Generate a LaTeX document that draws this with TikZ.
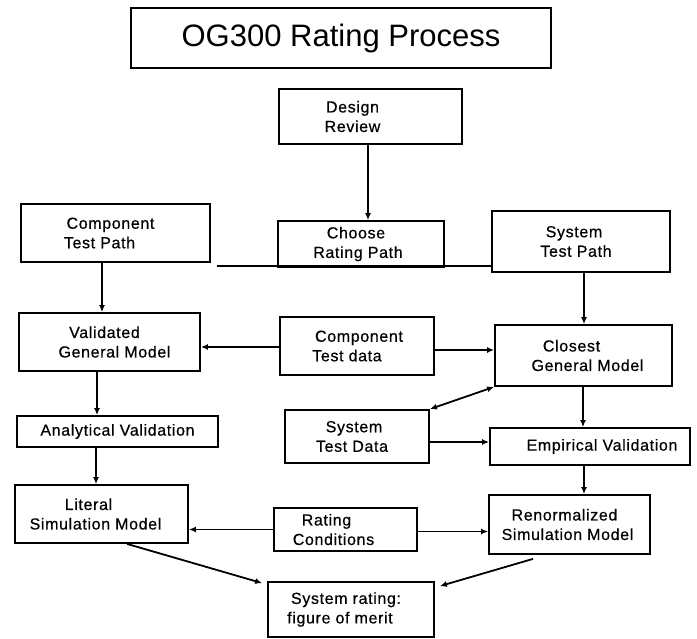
\documentclass[tikz,border=0pt]{standalone}
\usepackage{fontspec}
\setmainfont{Liberation Sans}
\newfontfamily\boxfont[FakeBold=0.5, LetterSpace=4]{Liberation Sans}
\usetikzlibrary{arrows.meta}
\begin{document}
\begin{tikzpicture}[x=1pt,y=-1pt,
  box/.style={draw=black, line width=1.8pt, rectangle, inner sep=0pt, align=center,
              font=\boxfont\fontsize{16}{19.5}\selectfont},
  arr/.style={line width=1.8pt, -{Latex[length=7pt,width=6pt]}},
  dbl/.style={line width=1.8pt, {Latex[length=7pt,width=6pt]}-{Latex[length=7pt,width=6pt]}},
  plainline/.style={line width=1.8pt}]
\useasboundingbox (0,0) rectangle (697,639);

% boxes
\node[box, minimum width=420pt, minimum height=60pt, font=\fontsize{31}{36}\selectfont] (title) at (341,38) {OG300 Rating Process};
\node[box, minimum width=183pt, minimum height=55pt] (design) at (370.5,116.5) {Design\hspace*{36pt}\\Review\hspace*{36pt}};
\node[box, minimum width=166pt, minimum height=46pt] (choose) at (361,244) {Choose\hspace*{10pt}\\Rating Path\hspace*{6pt}};
\node[box, minimum width=189pt, minimum height=58pt] (comppath) at (115.5,233) {Component\hspace*{10pt}\\Test Path\hspace*{32pt}};
\node[box, minimum width=178pt, minimum height=61pt] (syspath) at (581,241.5) {System\hspace*{14pt}\\Test Path\hspace*{10pt}};
\node[box, minimum width=181pt, minimum height=58pt] (valid) at (109.5,342) {Validated\hspace*{10pt}\\\hspace*{10pt}General Model};
\node[box, minimum width=154pt, minimum height=58pt] (comptest) at (357,346) {\hspace*{4pt}Component\\Test data\hspace*{20pt}};
\node[box, minimum width=177pt, minimum height=61pt] (closest) at (583.5,355.5) {Closest\hspace*{24pt}\\\hspace*{8pt}General Model};
\node[box, minimum width=201pt, minimum height=31pt] (analytic) at (117.5,431.5) {Analytical Validation};
\node[box, minimum width=144pt, minimum height=53pt] (systest) at (357,436.5) {System\hspace*{6pt}\\Test Data\hspace*{10pt}};
\node[box, minimum width=200pt, minimum height=37pt] (empirical) at (590,446.5) {\hspace*{24pt}Empirical Validation};
\node[box, minimum width=173pt, minimum height=58pt] (literal) at (101.5,514) {Literal\hspace*{26pt}\\Simulation Model\hspace*{12pt}};
\node[box, minimum width=143pt, minimum height=43pt] (rating) at (345.5,529.5) {Rating\hspace*{38pt}\\Conditions\hspace*{24pt}};
\node[box, minimum width=161pt, minimum height=59pt] (renorm) at (569.5,524.5) {Renormalized\hspace*{10pt}\\Simulation Model\hspace*{4pt}};
\node[box, minimum width=166pt, minimum height=55pt] (sysrating) at (351,609.5) {System rating:\hspace*{10pt}\\figure of merit\hspace*{22pt}};

% connectors
\draw[arr] ([xshift=-2.5pt]design.south) -- ([xshift=-2.5pt]design.south |- choose.north);
\coordinate (lstart) at (217,266);
\draw[plainline] (lstart) -- (lstart -| syspath.west);
\draw[arr] ([xshift=-13.5pt]comppath.south) -- ([xshift=-13.5pt]comppath.south |- valid.north);
\draw[arr] ([xshift=3pt]syspath.south) -- ([xshift=3pt]syspath.south |- closest.north);
\draw[arr] ([yshift=-1pt]comptest.west) -- ([yshift=-1pt]comptest.west -| valid.east);
\draw[arr] ([yshift=-4pt]comptest.east) -- ([yshift=-4pt]comptest.east -| closest.west);
\draw[arr] ([xshift=-12.5pt]valid.south) -- ([xshift=-12.5pt]valid.south |- analytic.north);
\draw[arr] ([xshift=-0.5pt]closest.south) -- ([xshift=-0.5pt]closest.south |- empirical.north);
\draw[dbl] (closest.south west) -- (systest.north east);
\draw[arr] ([yshift=-5.5pt]systest.east) -- ([yshift=-5.5pt]systest.east -| empirical.west);
\draw[arr] ([xshift=-21.5pt]analytic.south) -- ([xshift=-21.5pt]analytic.south |- literal.north);
\draw[arr] ([xshift=-6pt]empirical.south) -- ([xshift=-6pt]empirical.south |- renorm.north);
\draw[arr] (rating.west) -- (rating.west -| literal.east);
\draw[arr] ([yshift=-2pt]rating.east) -- ([yshift=-2pt]rating.east -| renorm.west);
\draw[arr] ([xshift=25.5pt]literal.south) -- ([xshift=-5pt,yshift=-2pt]sysrating.north west);
\draw[arr] ([xshift=-36.5pt,yshift=-4pt]renorm.south) -- ([xshift=5pt,yshift=-5pt]sysrating.north east);
\end{tikzpicture}
\end{document}
